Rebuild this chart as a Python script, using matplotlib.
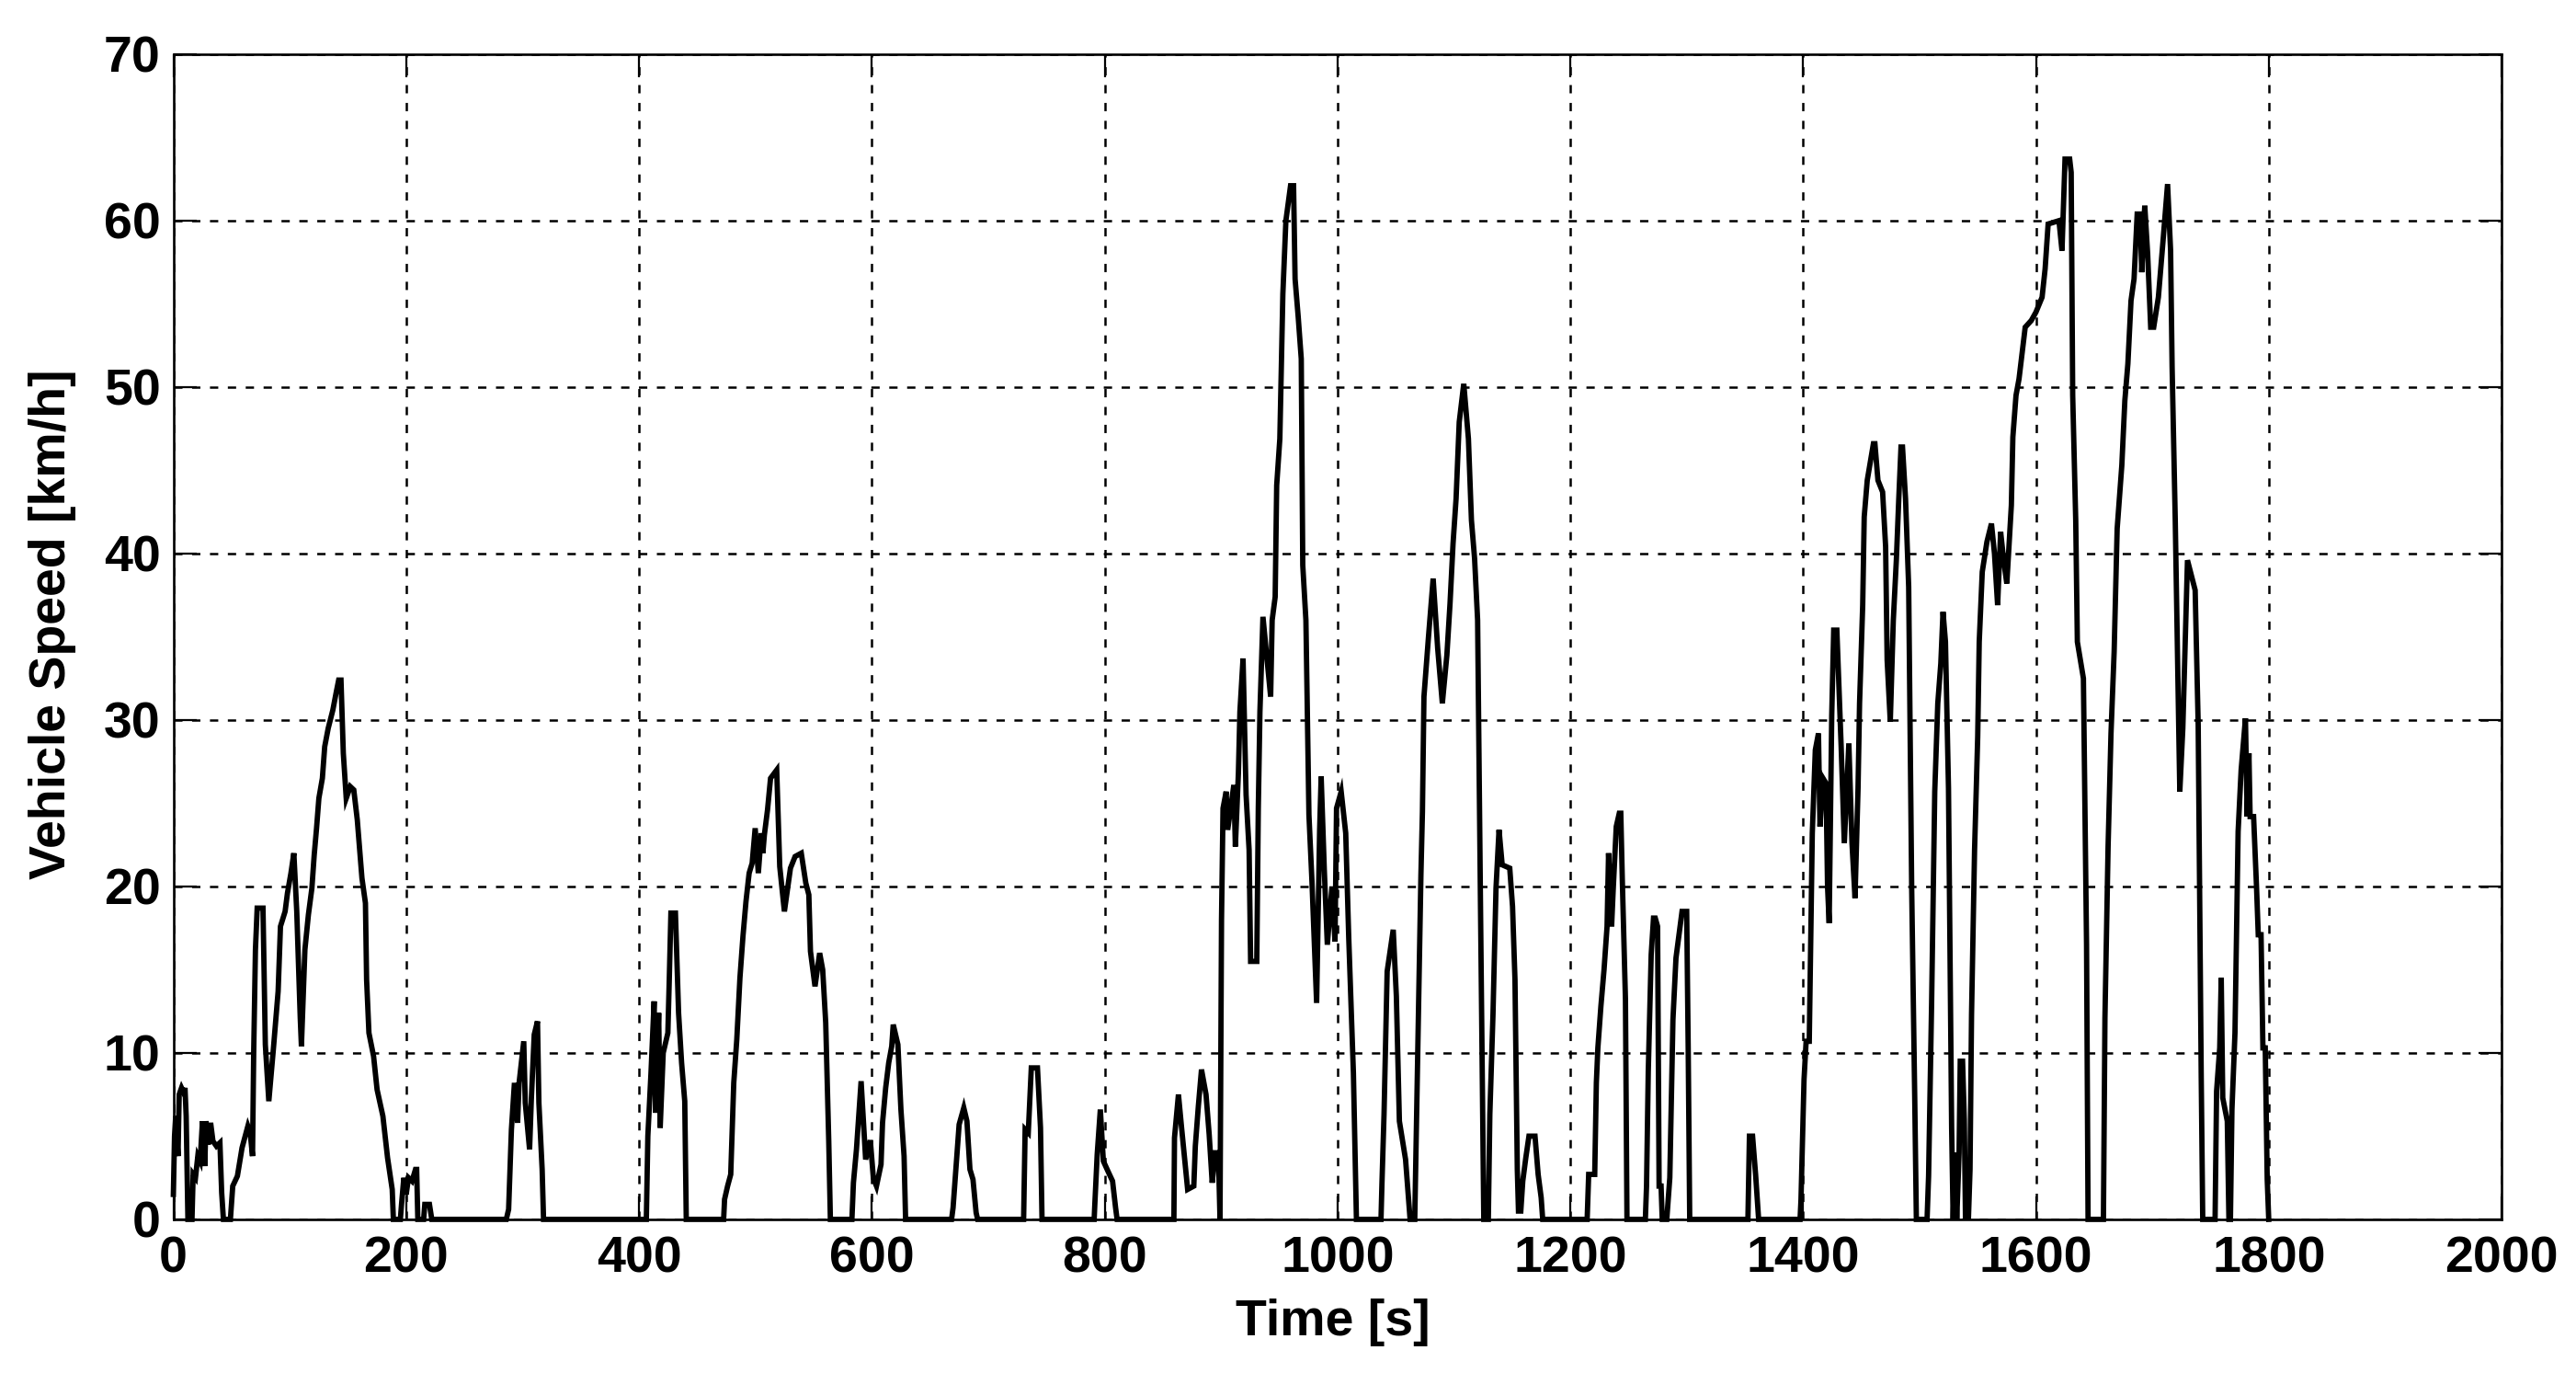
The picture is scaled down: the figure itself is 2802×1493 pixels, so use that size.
import matplotlib
matplotlib.use("Agg")
import matplotlib.pyplot as plt
import numpy as np

# speed trace, one micro-trip per pair of lists
# (time in s, vehicle speed in km/h)
trip01_t = [0, 1, 2, 4, 5, 7, 9, 10, 11, 12.5, 16, 17, 19, 21, 23, 25, 27, 28, 30, 32,
            34, 37, 40, 41.5, 43, 49, 51, 55, 59, 64, 66, 68, 69, 70.5, 72, 77, 79, 82,
            86, 90, 92, 96, 98, 101, 103.5, 106, 109, 110, 113, 116, 119, 121, 123, 125,
            128, 130, 133, 137, 140, 142, 144, 146, 148.5, 152, 155, 158, 162, 165, 166,
            168, 172, 175, 180, 184, 188, 189, 195, 196, 198, 200, 202, 205, 208, 209,
            210, 215, 216, 220, 222]
trip01_v = [1.5, 5, 6.2, 3.8, 7.5, 7.9, 7.6, 7.9, 6.2, 0, 0, 2.7, 2.5, 3.8, 3.5, 5.9, 3.2,
            5.9, 4.5, 5.8, 4.7, 4.4, 4.6, 1.6, 0, 0, 2, 2.6, 4.3, 5.6, 5.2, 3.8, 10, 16.2,
            18.7, 18.7, 10.5, 7.1, 10.3, 13.7, 17.6, 18.5, 19.6, 20.8, 22, 18.5, 12.1,
            10.4, 16.2, 18.3, 19.9, 21.9, 23.5, 25.3, 26.5, 28.4, 29.5, 30.6, 31.7, 32.4,
            32.4, 28, 25.3, 26, 25.8, 24, 20.5, 19, 14.4, 11.2, 9.8, 7.8, 6.2, 3.7, 1.8,
            0, 0, 0.9, 2.5, 1.5, 2.5, 2.3, 3, 3, 0, 0, 0.9, 0.9, 0]

trip02_t = [286, 288, 290.4, 293, 295.7, 297, 301, 302.3, 306, 307.5, 310, 312.8, 314,
            316.8, 318]
trip02_v = [0, 0.6, 5.4, 8.2, 5.8, 8.2, 10.7, 7, 4.2, 7.2, 11.1, 11.9, 7, 3, 0]

trip03_t = [406.3, 407.6, 410.3, 413, 414.2, 416.9, 418.2, 420.8, 424.8, 426, 427.4,
            431.3, 434, 436.6, 439.3, 440.6]
trip03_v = [0, 5, 8.8, 13.1, 6.4, 12.4, 5.5, 10, 11.2, 14.4, 18.4, 18.4, 12.4, 9.4, 7.1, 0]

trip04_t = [472.7, 473.5, 476.1, 478.8, 481.4, 484, 486.7, 489.3, 491.9, 494.6, 497.2,
            499.8, 502.5, 505.1, 506.4, 507.7, 510.4, 513, 518.3, 520.9, 524.9, 530.1,
            534.1, 539.4, 543.3, 545.9, 547.3, 551.2, 555.2, 557.8, 560.4, 563, 564.4]
trip04_v = [0, 1.2, 2, 2.7, 8.2, 10.8, 14.5, 17, 19.1, 20.8, 21.4, 23.5, 20.8, 23.2, 22,
            23.1, 24.6, 26.5, 27, 21.2, 18.5, 21.1, 21.8, 22, 20.2, 19.5, 16.1, 14, 16,
            15, 11.8, 4.7, 0]

trip05_t = [582.9, 584.2, 586.8, 590.8, 594.7, 598.7, 601.3, 604, 607.9, 609.2, 611.9,
            614.5, 617.1, 618.4, 622.4, 625, 627.7, 629]
trip05_v = [0, 2.2, 4.2, 8.3, 3.6, 4.75, 2.5, 2, 3.3, 5.8, 7.9, 9.4, 10.4, 11.7, 10.5,
            6.6, 3.8, 0]

trip06_t = [668.5, 669.8, 672.4, 675, 679, 681.7, 684.3, 686.9, 689.6, 690.9]
trip06_v = [0, 0.7, 3.2, 5.7, 6.7, 5.9, 3, 2.4, 0.4, 0]

trip07_t = [730.4, 731.7, 734.4, 737, 742.3, 744.9, 746.2]
trip07_v = [0, 5.4, 5.2, 9.1, 9.1, 5.5, 0]

trip08_t = [791, 791.5, 793.6, 796.3, 798.9, 802.8, 806.8, 809.4, 810.7]
trip08_v = [0, 0.8, 3.9, 6.6, 3.5, 2.9, 2.3, 0.7, 0]

trip09_t = [859.5, 860, 863.4, 866.1, 871.3, 876.6, 877.9, 880.5, 883.2, 887.1, 889.8,
            892.4, 895, 897.7, 899.1]
trip09_v = [0, 4.9, 7.5, 5.5, 1.8, 2, 4.4, 6.8, 9, 7.5, 5.1, 2.2, 4, 4, 0]

trip10_t = [899.1, 900.4, 901.7, 904.4, 905.7, 911, 912.3, 914.9, 916.2, 918.9, 921.5,
            924.1, 925.4, 930.7, 932, 933.4, 936, 942.6, 943.9, 946.5, 947.8, 950.5,
            953.1, 955.7, 959.7, 962.3, 963.6, 966.3, 968.9, 970.2, 972.9, 975.5, 978.1,
            982.1, 984.7, 986, 988.7, 991.3, 995.3, 997.9, 999.2, 1003.2, 1007.1, 1009.7,
            1013.7, 1016.3]
trip10_v = [0, 18, 24.7, 25.7, 23.4, 26.1, 22.4, 26.8, 30.5, 33.7, 25.5, 22.2, 15.5, 15.5,
            24.7, 30.5, 36.2, 31.4, 36, 37.4, 44.1, 46.9, 55.6, 60, 62.1, 62.1, 56.5, 54.2,
            51.7, 39.3, 36, 24.3, 20.3, 13, 23.4, 26.6, 21, 16.5, 20, 16.7, 24.7, 25.7,
            23.2, 16.9, 8.8, 0]

trip11_t = [1037.4, 1038.2, 1040, 1042.7, 1047.9, 1050.6, 1053.2, 1058.5, 1062.4]
trip11_v = [0, 2.1, 6.3, 14.9, 17.4, 13.4, 5.9, 3.6, 0]

trip12_t = [1066.4, 1067.7, 1071.7, 1073, 1074.3, 1078.2, 1082.2, 1086.1, 1090.1, 1094,
            1096.7, 1099.3, 1101.9, 1104.6, 1108.5, 1112.5, 1115.1, 1117.8, 1120.4, 1123,
            1125.7]
trip12_v = [0, 5, 20.7, 24.5, 31.4, 35, 38.5, 34.3, 31, 33.9, 37, 40.6, 43.3, 47.9, 50.2,
            46.9, 42, 39.7, 36, 18, 0]

trip13_t = [1129.6, 1130.9, 1133.6, 1136.2, 1138.8, 1141.5, 1148, 1150.4, 1152.5, 1154.5,
            1155.5, 1157.5, 1159.2, 1161.8, 1164.5, 1169.7, 1172.4, 1175, 1176.3]
trip13_v = [0, 6.3, 12.3, 19.9, 23.4, 21.3, 21.1, 18.8, 14.4, 3, 0.5, 0.5, 2.3, 3.7, 5, 5,
            2.7, 1.3, 0]

trip14_t = [1214.5, 1215.8, 1221, 1222.4, 1223.7, 1226.3, 1229, 1231.6, 1232.9, 1235.5,
            1236.8, 1239.5, 1242.1, 1243.4, 1244.7, 1247.4, 1248.7]
trip14_v = [0, 2.7, 2.7, 8.2, 10.3, 12.8, 15, 17.6, 22, 17.6, 19.7, 23.6, 24.4, 24.4,
            20.4, 13.2, 0]

trip15_t = [1264.5, 1265.5, 1267, 1269.5, 1271.5, 1273, 1275, 1276.3, 1278, 1279]
trip15_v = [0, 2, 8.9, 15.9, 18.1, 18.1, 17.6, 2, 2, 0]

trip16_t = [1282.9, 1285.5, 1288.2, 1290.8, 1293.4, 1296, 1300, 1301.3, 1302.6]
trip16_v = [0, 2.5, 12, 15.7, 17.1, 18.5, 18.5, 10.3, 0]

trip17_t = [1352.6, 1353.9, 1356.6, 1359.2, 1361.8]
trip17_v = [0, 5, 5, 2.7, 0]

trip18_t = [1397.4, 1398.2, 1400.8, 1402.6, 1405.3, 1406.6, 1407.9, 1410.5, 1413.2,
            1414.5, 1417.1, 1419.7, 1421, 1422.4, 1424.6, 1426.3, 1429, 1431.4, 1432.7,
            1435.4, 1439.3, 1442, 1444.6, 1447.2, 1448.5, 1451.2, 1452.5, 1455.1, 1460.4,
            1461.7, 1464.3, 1468.3, 1470.9, 1472.2, 1474.9, 1477.5, 1480.1, 1482.2,
            1484.1, 1485.4, 1488, 1490.7, 1493.3, 1495.9, 1497.3]
trip18_v = [0, 1.2, 8.4, 10.7, 10.7, 17, 23.2, 28.2, 29.2, 23.6, 26.5, 26.2, 20, 17.8,
            30.3, 35.4, 35.4, 30.8, 28.4, 22.6, 28.6, 22.6, 19.3, 25.9, 31, 36.9, 42.2,
            44.4, 46.6, 46.6, 44.4, 43.7, 40.4, 33.6, 29.9, 36, 39.6, 43.3, 46.4, 46.4,
            43.3, 38, 19.8, 7.3, 0]

trip19_t = [1506.5, 1507.8, 1510.4, 1513.1, 1515.7, 1518.3, 1520.2, 1522.3, 1524.9,
            1527.6, 1528.9, 1530.5, 1532, 1534, 1535, 1537, 1538.5, 1539.5, 1541, 1542,
            1543.4, 1544.7, 1547.3, 1550, 1551.3, 1553.9, 1557.9, 1561.8, 1564.4, 1567.1,
            1569.7, 1572.3, 1575, 1578.9, 1580.2, 1582.9, 1585.5, 1590.8, 1596, 1600,
            1605.3, 1607.9, 1610.5, 1619.8, 1622.4, 1625, 1629, 1630.3, 1631.6, 1634.2,
            1635.6, 1640.8, 1643.5, 1644.8]
trip19_v = [0, 2.6, 13, 25.7, 31, 33.4, 36.5, 34.7, 25.9, 5.5, 0, 4, 0, 4, 9.5, 9.5, 6,
            0, 3, 0, 3, 12.3, 22.2, 29, 34.7, 38.9, 40.7, 41.8, 40, 36.9, 41.3, 39.6, 38.2,
            42.9, 47, 49.5, 50.5, 53.6, 54, 54.5, 55.4, 57.1, 59.8, 60, 58.2, 63.7, 63.7,
            62.9, 49.5, 42, 34.7, 32.5, 16.5, 0]

trip20_t = [1658, 1659.3, 1662, 1664.5, 1667.2, 1669.8, 1673.8, 1676.4, 1679, 1681.7,
            1684.3, 1687, 1689.6, 1690.9, 1693.5, 1696, 1698.6, 1701.2, 1705.2, 1709.1,
            1713.1, 1715.7, 1717, 1719.7, 1722.3, 1723.6, 1726.2, 1730.2, 1736.8, 1739.4,
            1742, 1743.3]
trip20_v = [0, 12.1, 22.4, 29.2, 34.1, 41.5, 45.3, 49.2, 51.4, 55.2, 56.5, 60.4, 60.4,
            56.9, 60.9, 58, 53.6, 53.6, 55.4, 58.7, 62.2, 58.2, 51.2, 42, 31.2, 25.7, 29.5,
            39.6, 37.8, 29.7, 8.6, 0]

trip21_t = [1753.9, 1755.2, 1757.9, 1759.2, 1760.5, 1764.4, 1765.8, 1767.1, 1768.4, 1771,
            1773.7, 1776.3, 1780, 1781.5, 1783, 1784, 1787, 1789.5, 1791, 1793.4, 1795,
            1797, 1798.7, 1800]
trip21_v = [0, 7.7, 10.3, 14.5, 7.3, 5.9, 0, 0, 6.6, 11.2, 23.3, 27, 30.1, 24.2, 28, 24.2,
            24.2, 20, 17.1, 17.1, 10.3, 10.3, 2.4, 0]

x_ticks = np.arange(0, 2001, 200)
y_ticks = np.arange(0, 71, 10)

trips = [
    (trip01_t, trip01_v), (trip02_t, trip02_v), (trip03_t, trip03_v), (trip04_t, trip04_v),
    (trip05_t, trip05_v), (trip06_t, trip06_v), (trip07_t, trip07_v), (trip08_t, trip08_v),
    (trip09_t, trip09_v), (trip10_t, trip10_v), (trip11_t, trip11_v), (trip12_t, trip12_v),
    (trip13_t, trip13_v), (trip14_t, trip14_v), (trip15_t, trip15_v), (trip16_t, trip16_v),
    (trip17_t, trip17_v), (trip18_t, trip18_v), (trip19_t, trip19_v), (trip20_t, trip20_v),
    (trip21_t, trip21_v),
]
time = np.concatenate([np.asarray(t, float) for t, _ in trips])
speed = np.concatenate([np.asarray(v, float) for _, v in trips])

plt.rcParams["font.family"] = ["Liberation Sans", "DejaVu Sans"]
plt.rcParams["font.weight"] = "bold"
plt.rcParams["lines.scale_dashes"] = False

fig = plt.figure(figsize=(28.02, 14.93), dpi=100)
ax = fig.add_axes([0.0673, 0.1119, 0.9038, 0.8486])

ax.plot(time, speed, color="black", linewidth=4.2, solid_joinstyle="miter",
        clip_on=False, zorder=3)

ax.set_xlim(0, 2000)
ax.set_ylim(0, 70)
ax.set_xticks(x_ticks)
ax.set_yticks(y_ticks)
ax.grid(True, color="black", linestyle=(0, (6.5, 7.5)), linewidth=1.8)
ax.tick_params(direction="in", length=18, width=1.6, top=True, right=True,
               labelsize=40, colors="black")
ax.tick_params(axis="x", pad=13)
ax.tick_params(axis="y", pad=10)
for lab in ax.get_xticklabels() + ax.get_yticklabels():
    lab.set_fontweight("bold")
for sp in ax.spines.values():
    sp.set_linewidth(1.9)
    sp.set_zorder(4)

ax.set_xlabel("Time [s]", fontsize=40, fontweight="bold")
ax.set_ylabel("Vehicle Speed [km/h]", fontsize=40, fontweight="bold")
ax.xaxis.set_label_coords(0.498, -0.0679)
ax.yaxis.set_label_coords(-0.0417, 0.5107)

fig.savefig("out.png", dpi=100, facecolor="white")
plt.close(fig)
